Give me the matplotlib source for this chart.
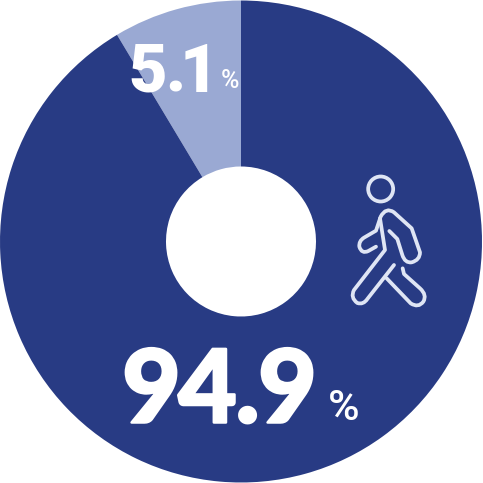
import matplotlib
matplotlib.use("Agg")
import matplotlib.pyplot as plt
import matplotlib.patheffects as pe
from matplotlib.path import Path
from matplotlib.patches import PathPatch, Circle

# values as drawn in the picture (wedge geometry) and as printed
categories = ["other", "walking"]
drawn_shares = [8.6, 91.4]
printed_labels = ["5.1", "94.9"]
colors = ["#9AA9D3", "#283B84"]
ICON = "#DFE5F4"

fig = plt.figure(figsize=(4.83, 4.83), dpi=100, facecolor="white")
ax = fig.add_axes([0, 0, 1, 1])
ax.pie(drawn_shares, colors=colors, startangle=90, counterclock=True,
       radius=241, center=(241, 241.5),
       wedgeprops=dict(width=241 - 75, linewidth=0), frame=True)
ax.set_xlim(0, 483)
ax.set_ylim(0, 483)
ax.set_aspect("equal")
ax.axis("off")

ov = fig.add_axes([0, 0, 1, 1], facecolor="none")
ov.set_xlim(0, 483)
ov.set_ylim(483, 0)
ov.axis("off")


def spaced(label, centers, baseline, size, family, embolden=0):
    # the reference sets its numerals tighter than the installed fonts do
    for ch, cx in zip(label, centers):
        t = ov.text(cx, baseline, ch, fontsize=size, fontweight="black", family=family,
                    color="white", ha="center", va="baseline")
        if embolden:
            t.set_path_effects([pe.withStroke(linewidth=embolden, foreground="white")])


spaced(printed_labels[1], [151.5, 207.5, 247.5, 287.5], 422.5, 73, "Lato", embolden=1.8)
spaced(printed_labels[0], [148, 175, 198.5], 92, 48, "Roboto")
ov.text(344, 420, "%", fontsize=31, fontweight="medium", family="Roboto",
        color="white", ha="center", va="baseline")
ov.text(230.5, 88, "%", fontsize=18, fontweight="medium", family="Roboto",
        color="white", ha="center", va="baseline")


def Z(p):
    return (340 + p[0] / 3, 165 + p[1] / 3)


def stroke(cmds):
    verts, codes = [], []
    for c in cmds:
        if c[0] == "M":
            verts.append(Z(c[1])); codes.append(Path.MOVETO)
        elif c[0] == "L":
            verts.append(Z(c[1])); codes.append(Path.LINETO)
        else:
            verts += [Z(c[1]), Z(c[2])]; codes += [Path.CURVE3, Path.CURVE3]
    ov.add_patch(PathPatch(Path(verts, codes), fill=False, edgecolor=ICON, lw=2.7,
                           capstyle="round", joinstyle="round"))


ov.add_patch(Circle(Z((122, 72)), 12.5, fill=False, edgecolor=ICON, lw=2.7))
stroke([("M", (108, 245)), ("L", (85, 258)), ("Q", (65, 268), (58, 245)),
        ("Q", (56, 228), (72, 218)), ("L", (108, 197)),
        ("L", (122, 155)), ("Q", (138, 125), (162, 142)),
        ("L", (215, 190)), ("L", (240, 262)),
        ("Q", (240, 285), (215, 292)), ("Q", (195, 295), (187, 270)),
        ("L", (172, 222)), ("L", (148, 198))])
stroke([("M", (120, 160)), ("L", (135, 255)), ("L", (42, 375)),
        ("Q", (30, 398), (52, 414)), ("Q", (70, 420), (82, 402)),
        ("L", (162, 300))])
stroke([("M", (140, 340)), ("L", (212, 415)), ("Q", (235, 430), (250, 410)),
        ("Q", (262, 390), (240, 370)), ("L", (192, 327)), ("L", (188, 310))])

fig.savefig("out.png", dpi=100, facecolor="white")
